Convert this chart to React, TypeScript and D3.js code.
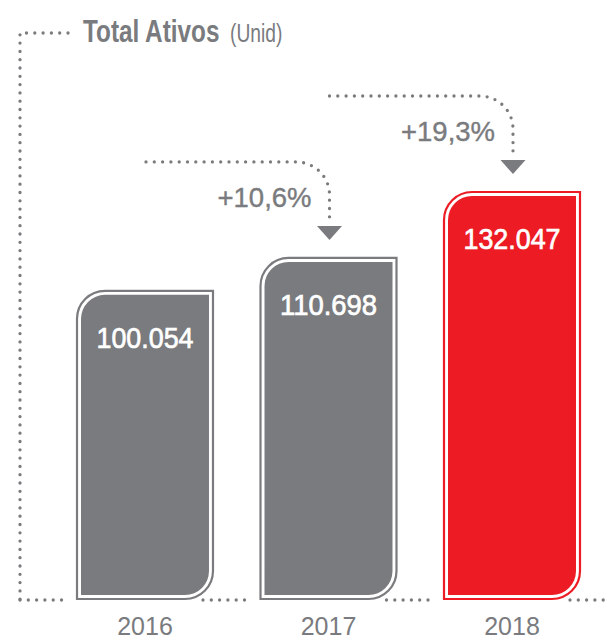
import React from 'react';
import * as d3 from 'd3';

// ==================== DATA ====================
const YEARS = ['2016', '2017', '2018'];
const VALUES = [100054, 110698, 132047];
const VALUE_LABELS = ['100.054', '110.698', '132.047'];
const GROWTH_LABELS = ['+10,6%', '+19,3%'];

const GRAY = '#7a7b7e';
const RED = '#ed1c24';
const FONT = "'Liberation Sans', Arial, sans-serif";

const W = 607;
const H = 640;
const BASE_Y = 599;
const R = 28; // corner radius

// bar with rounded top-left and bottom-right corners
const barPath = (x: number, y: number, w: number, h: number, r: number) => {
    const rr = Math.min(r, h / 2, w / 2);
    return `M${x},${y + rr} A${rr},${rr} 0 0 1 ${x + rr},${y} H${x + w} V${y + h - rr} A${rr},${rr} 0 0 1 ${x + w - rr},${y + h} H${x} Z`;
};

const dotted = { fill: 'none', stroke: GRAY, strokeWidth: 3.3, strokeLinecap: 'round' as const, strokeDasharray: '0 8.3' };

export default function App() {
    const x = d3.scaleBand<string>()
        .domain(YEARS)
        .range([53.25, 603.75])
        .paddingInner(0.248)
        .paddingOuter(0.124);

    const y = d3.scaleLinear()
        .domain([0, d3.max(VALUES) as number])
        .range([BASE_Y, 191]);

    const bw = x.bandwidth();

    // dotted baseline segments between the bars
    const segs: [number, number][] = [];
    YEARS.forEach((yr, i) => {
        const left = x(yr) as number;
        const start = i === 0 ? 20 : (x(YEARS[i - 1]) as number) + bw - 11;
        segs.push([start, left - 7]);
    });
    segs.push([(x(YEARS[YEARS.length - 1]) as number) + bw - 11, W - 3]);

    return (
        <svg width={W} height={H} style={{ display: 'block', position: 'absolute', left: 0, top: 0, background: '#fff' }}>
            {/* frame */}
            <path d={`M68,33 H20 V600`} {...dotted} />
            {segs.map(([a, b], i) => (
                <path key={'s' + i} d={`M${a},600 H${b}`} {...dotted} />
            ))}

            {/* title (condensed by horizontal scale) */}
            <text transform="translate(83,42) scale(0.76,1)" fontFamily={FONT} fill={GRAY}
                fontSize={32} fontWeight="bold">Total Ativos</text>
            <text transform="translate(230,42) scale(0.74,1)" fontFamily={FONT} fill={GRAY}
                fontSize={26}>(Unid)</text>

            {/* bars */}
            {YEARS.map((yr, i) => {
                const bx = x(yr) as number;
                const by = y(VALUES[i]);
                const h = BASE_Y - by;
                const col = i === YEARS.length - 1 ? RED : GRAY;
                return (
                    <g key={yr}>
                        <path d={barPath(bx + 1, by + 1, bw - 2, h - 1, R)} fill="none" stroke={col} strokeWidth={2.2} />
                        <path d={barPath(bx + 5, by + 5, bw - 10, h - 9, R - 4)} fill={col} />
                        <text x={bx + bw / 2} y={by + 58} textAnchor="middle" fontFamily={FONT} fontSize={30}
                            fill="#fff" stroke="#fff" strokeWidth={0.7} textLength={97} lengthAdjust="spacingAndGlyphs">{VALUE_LABELS[i]}</text>
                        <text x={bx + bw / 2} y={635} textAnchor="middle" fontFamily={FONT} fontSize={25}
                            fill={GRAY}>{yr}</text>
                    </g>
                );
            })}

            {/* growth arrows */}
            {GROWTH_LABELS.map((lab, i) => {
                const x0 = (x(YEARS[i]) as number) + bw / 2 + 1;
                const x1 = (x(YEARS[i + 1]) as number) + bw / 2 + 1;
                const top = y(VALUES[i + 1]);
                const ly = top - 95;
                const tip = top - 17;
                const r = 33;
                return (
                    <g key={lab}>
                        <path d={`M${x0},${ly} H${x1 - r} A${r},${r} 0 0 1 ${x1},${ly + r} V${tip - 17}`} {...dotted} />
                        <path d={`M${x1 - 12.5},${tip - 14} H${x1 + 12.5} L${x1},${tip} Z`} fill={GRAY} />
                        <text x={x1 - 18} y={ly + 45} textAnchor="end" fontFamily={FONT} fontSize={28}
                            fill={GRAY} stroke={GRAY} strokeWidth={0.4} textLength={94} lengthAdjust="spacingAndGlyphs">{lab}</text>
                    </g>
                );
            })}
        </svg>
    );
}
